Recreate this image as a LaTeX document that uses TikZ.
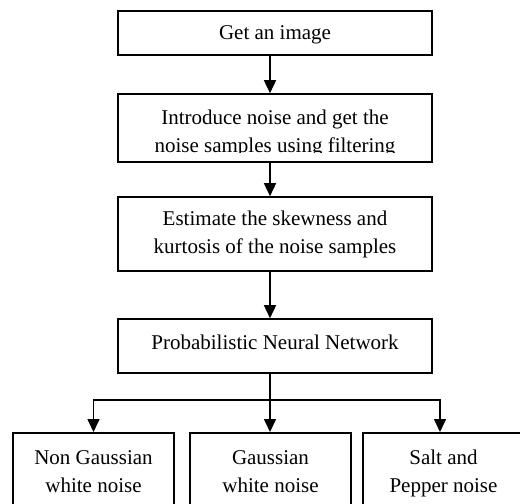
\documentclass[tikz,border=0pt]{standalone}
\usepackage{fontspec}
\setmainfont{Liberation Serif}
\usetikzlibrary{arrows.meta}
\tikzset{
  stepbox/.style={draw,line width=1.6bp,minimum width=314bp,inner sep=0pt,align=center},
  outbox/.style={draw,line width=1.6bp,minimum width=161bp,minimum height=86bp,inner sep=0pt,align=center,anchor=north},
  flow/.style={line width=1.6bp,-{Triangle[length=13bp,width=12bp]}}
}
\begin{document}
\begin{tikzpicture}[x=1bp,y=-1bp,font=\fontsize{21bp}{28bp}\selectfont]
\useasboundingbox (0,0) rectangle (520,504);
\clip (0,0) rectangle (520,504);
\node[stepbox,minimum height=44bp,text depth=0pt] (getimg) at (275,33) {Get an image};
\node[stepbox,minimum height=68bp] (noise) at (275,128) {};
\begin{scope}
  \clip (118,94) rectangle (432,152.5);
  \node[align=center,inner sep=0pt] (noisetxt) at (275,133) {Introduce noise and get the\\noise samples using filtering};
\end{scope}
\node[stepbox,minimum height=74bp] (skew) at (275,234) {Estimate the skewness and\\kurtosis of the noise samples};
\node[stepbox,minimum height=54bp,text depth=8bp] (pnn) at (275,346) {Probabilistic Neural Network};
\node[outbox] (nongauss) at (93.5,432) {Non Gaussian\\white noise\strut};
\node[outbox] (gauss) at (270.5,432) {Gaussian\\white noise\strut};
\node[outbox] (saltpep) at (443.5,432) {Salt and\\Pepper noise\strut};
\coordinate (split) at (270,400);
\draw[flow] ([xshift=-5bp]getimg.south) -- ([xshift=-5bp]noise.north);
\draw[flow] ([xshift=-5bp]noise.south) -- ([xshift=-5bp]skew.north);
\draw[flow] ([xshift=-5bp]skew.south) -- ([xshift=-5bp]pnn.north);
\draw[line width=1.6bp] ([xshift=-5bp]pnn.south) -- (split);
\draw[flow] (split) -| (nongauss.north);
\draw[flow] (split) -- (gauss.north -| split);
\draw[flow] (split) -| ([xshift=-3.5bp]saltpep.north);
\end{tikzpicture}
\end{document}
